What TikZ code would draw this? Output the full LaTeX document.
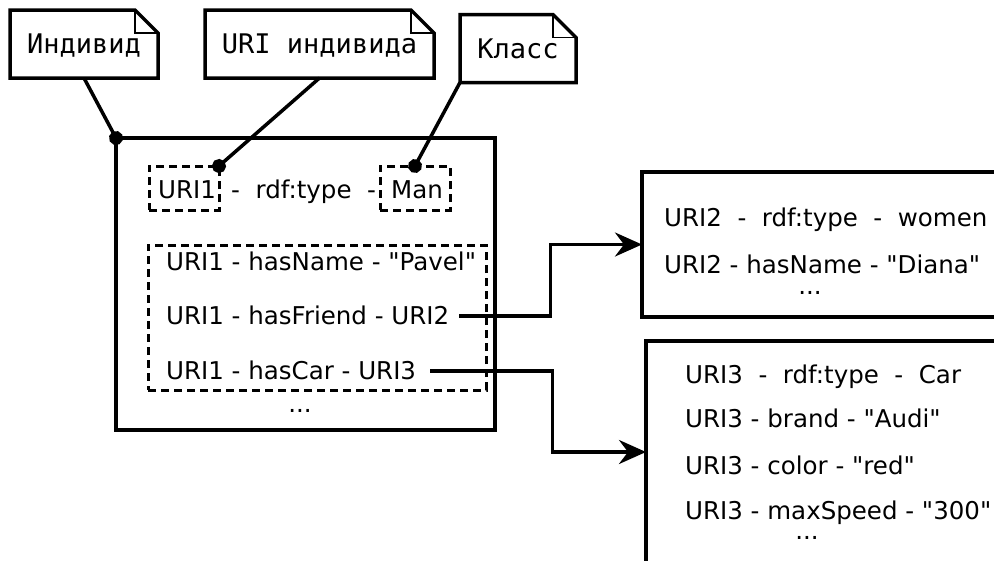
\documentclass[tikz,border=0pt]{standalone}
\usepackage{fontspec}
\setmainfont{DejaVu Sans}[Ligatures=TeXOff]
\setmonofont{DejaVu Sans Mono}
\usetikzlibrary{arrows.meta}
\tikzset{
  txt/.style={font=\fontsize{24.5}{28}\selectfont, text height=17.9pt, text depth=0pt, inner sep=0pt, anchor=west},
  etc/.style={font=\fontsize{24.5}{28}\selectfont, inner sep=0pt},
  note/.style={font=\fontsize{27}{30}\ttfamily, text height=19.7pt, text depth=0pt, inner sep=0pt, outer sep=0pt, minimum height=68},
  frame/.style={draw, line width=3.5pt, inner sep=0pt, outer sep=0pt},
  dashbox/.style={draw, line width=3pt, dash pattern=on 8pt off 5pt, inner sep=0pt, outer sep=0pt},
  link/.style={line width=3.5pt, -{Stealth[length=27pt,width=24pt,inset=9pt]}},
  pin/.style={line width=3.5pt, -{Circle[length=14pt]}, shorten >=-7pt}
}
\begin{document}
\begin{tikzpicture}[x=1pt, y=-1pt]
    \useasboundingbox (0,0) rectangle (994,560);
    \clip (0,0) rectangle (994,560);
    % notes
    \node[note, minimum width=148] (indiv) at (84,44) {Индивид};
    \node[note, minimum width=229] (uriind) at (319.5,44) {URI индивида};
    \node[note, minimum width=116] (klass) at (518,48.5) {Класс};
    \foreach \n in {indiv,uriind,klass} {
      \draw[line width=3.5pt] (\n.south west) -- (\n.north west) -- ([xshift=-23pt]\n.north east)
        -- ([yshift=-23pt]\n.north east) -- (\n.south east) -- cycle;
      \draw[line width=1.5pt] ([xshift=-23pt]\n.north east) |- ([yshift=-23pt]\n.north east);
    }
    % individual
    \node[frame, minimum width=379, minimum height=292] (mainbox) at (305.5,284) {};
    \node[dashbox, minimum width=70, minimum height=44] (uri1) at (184,188) {};
    \node[txt, anchor=center] at (187,190) {URI1};
    \node[txt] (typerow) at (231,190) {-\ \ rdf:type\ \ -};
    \node[dashbox, minimum width=70, minimum height=44] (man) at (415,188) {};
    \node[txt, anchor=center] at (417,190) {Man};
    \node[dashbox, minimum width=338, minimum height=145] (triples) at (317,317.5) {};
    \node[txt] (name) at (166,262) {URI1 - hasName - "Pavel"};
    \node[txt] (friend) at (166,316) {URI1 - hasFriend - URI2};
    \node[txt] (car) at (166,371) {URI1 - hasCar - URI3};
    \node[etc] (more1) at (300,411) {...};
    % linked individuals
    \node[frame, minimum width=400, minimum height=145] (uri2) at (842,244.5) {};
    \node[txt] (women) at (664,218) {URI2\ \ -\ \ rdf:type\ \ -\ \ women};
    \node[txt] (diana) at (664,265) {URI2 - hasName - "Diana"};
    \node[etc] (more2) at (810,293) {...};
    \node[frame, minimum width=400, minimum height=222] (uri3) at (846,452) {};
    \node[txt] (cartype) at (685,375) {URI3\ \ -\ \ rdf:type\ \ -\ \ Car};
    \node[txt] (brand) at (685,419) {URI3 - brand - "Audi"};
    \node[txt] (color) at (685,466) {URI3 - color - "red"};
    \node[txt] (speed) at (685,511) {URI3 - maxSpeed - "300"};
    \node[etc] (more3) at (807,538) {...};
    % connectors
    \draw[pin] (indiv.south) -- (mainbox.north west);
    \draw[pin] (uriind.south) -- (uri1.north east);
    \draw[pin] (klass.south west) -- (man.north);
    \draw[link] ([xshift=10pt]friend.east) -- ++(91,0) |- (uri2.west);
    \draw[link] ([xshift=14pt]car.east) -- ++(122,0) |- (uri3.west);
\end{tikzpicture}
\end{document}
